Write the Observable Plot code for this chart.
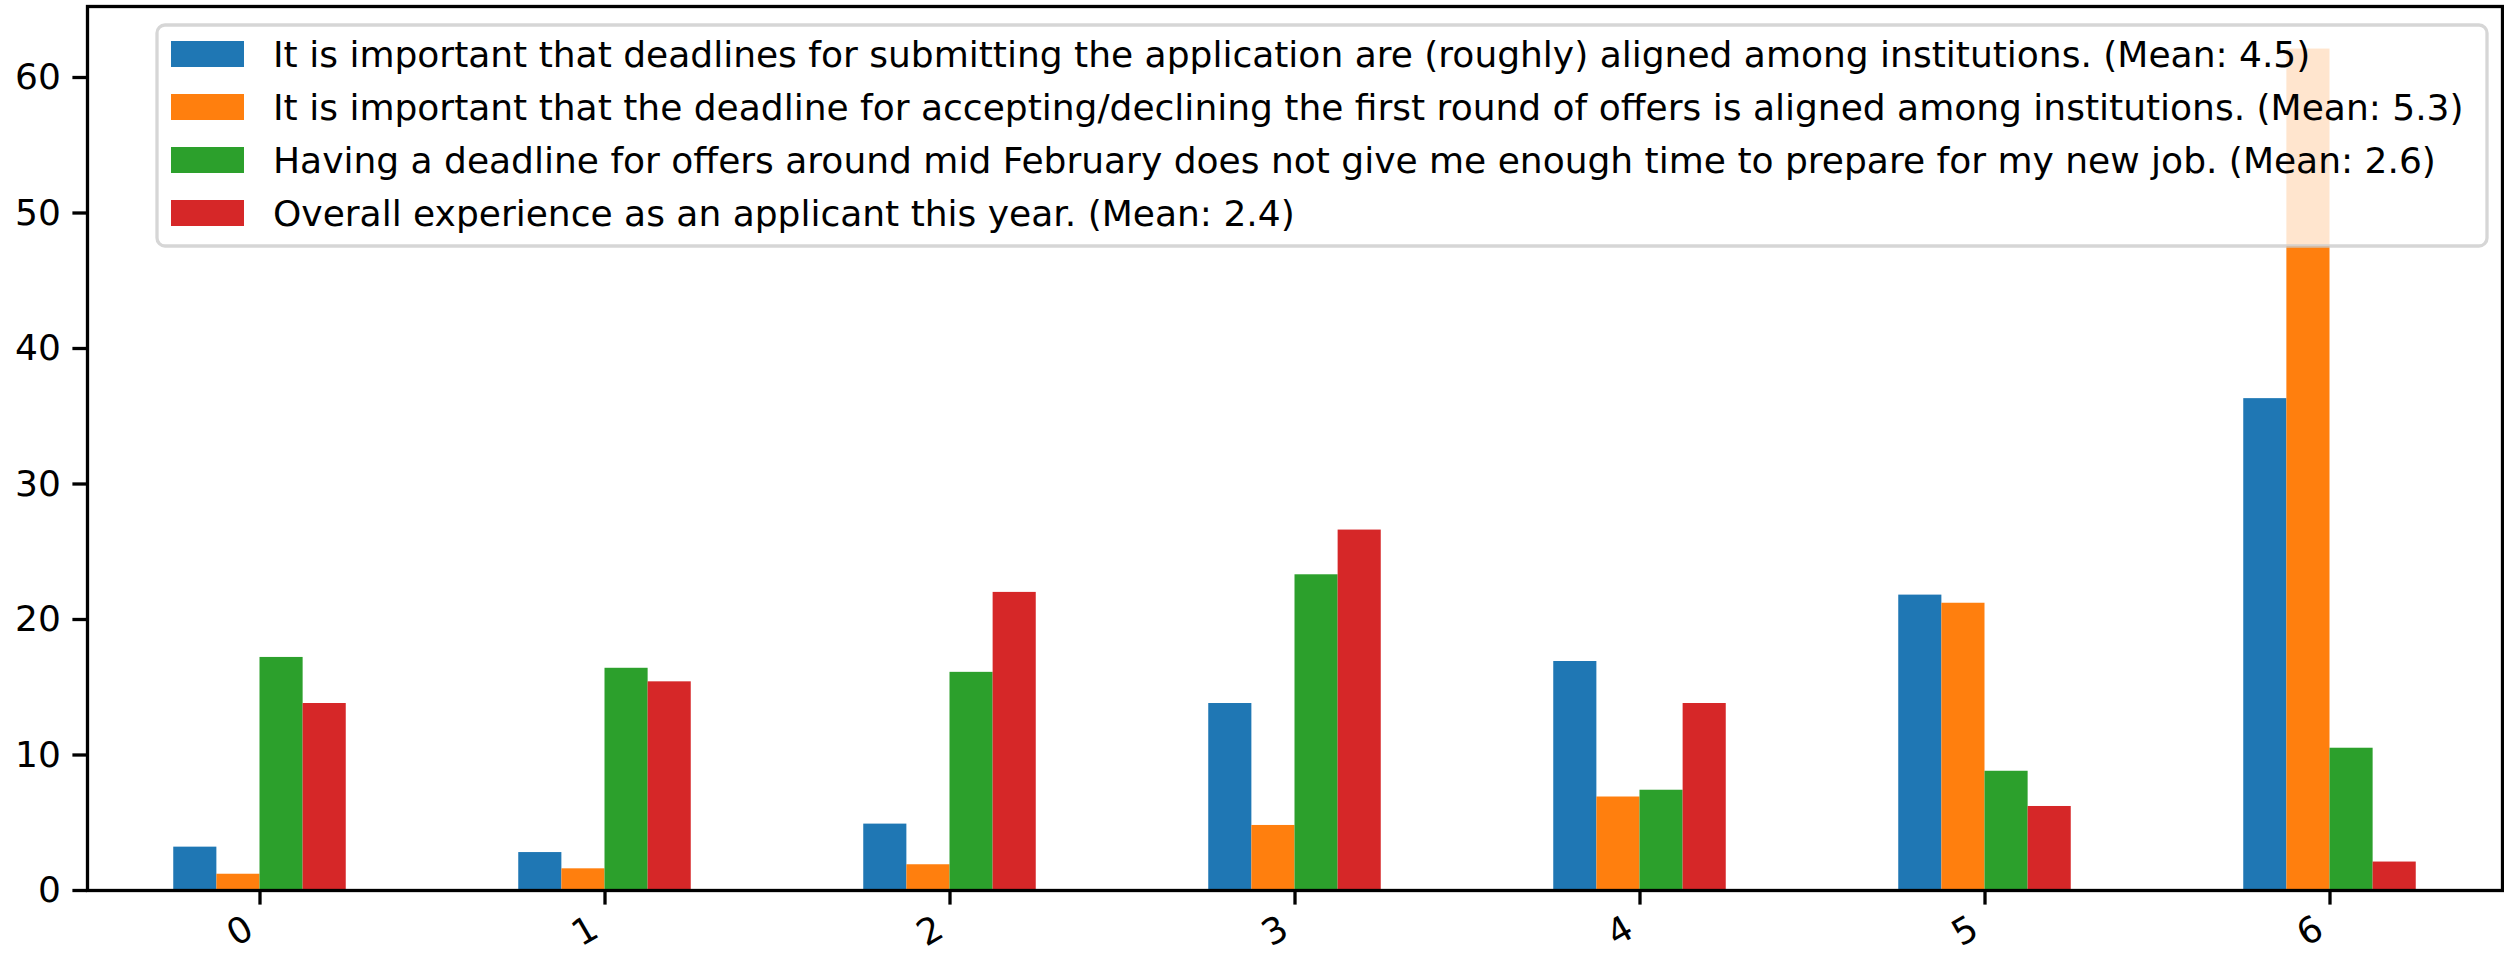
<!DOCTYPE html>
<html>
<head>
<meta charset="utf-8">
<script src="https://cdn.jsdelivr.net/npm/d3@7"></script>
<script src="https://cdn.jsdelivr.net/npm/@observablehq/plot@0.6"></script>
<style>
  html, body { margin: 0; padding: 0; background: #ffffff; }
  #chart svg { display: block; }
</style>
</head>
<body>
<div id="chart"></div>
<script>
// ---- data ----
const categories = [0, 1, 2, 3, 4, 5, 6];
const seriesLabels = [
  "It is important that deadlines for submitting the application are (roughly) aligned among institutions. (Mean: 4.5)",
  "It is important that the deadline for accepting/declining the first round of offers is aligned among institutions. (Mean: 5.3)",
  "Having a deadline for offers around mid February does not give me enough time to prepare for my new job. (Mean: 2.6)",
  "Overall experience as an applicant this year. (Mean: 2.4)"
];
const deadlinesSubmit = [3.2, 2.8, 4.9, 13.8, 16.9, 21.8, 36.3];
const deadlineAccept  = [1.2, 1.6, 1.9, 4.8, 6.9, 21.2, 62.1];
const midFebruary     = [17.2, 16.4, 16.1, 23.3, 7.4, 8.8, 10.5];
const overallExp      = [13.8, 15.4, 22.0, 26.6, 13.8, 6.2, 2.1];
const yTicks = [0, 10, 20, 30, 40, 50, 60];
const colors = ["#1f77b4", "#ff7f0e", "#2ca02c", "#d62728"];

// ---- table ----
const seriesValues = [deadlinesSubmit, deadlineAccept, midFebruary, overallExp];
const barWidth = 0.125; // pandas default total width 0.5 split over 4 series
const rows = [];
seriesValues.forEach((vals, s) => {
  vals.forEach((v, i) => {
    const x1 = categories[i] - 0.25 + s * barWidth;
    rows.push({cat: categories[i], series: seriesLabels[s], x1, x2: x1 + barWidth, value: v});
  });
});

const W = 2504, H = 953;
const svg = Plot.plot({
  width: W,
  height: H,
  marginLeft: 87,
  marginRight: 2,
  marginTop: 6,
  marginBottom: 63,
  style: {fontFamily: "DejaVu Sans", fontSize: "36px", color: "black", background: "white"},
  x: {type: "linear", domain: [-0.5, 6.5], axis: null},
  y: {domain: [0, 65.24], axis: null},
  color: {domain: seriesLabels, range: colors},
  marks: [
    Plot.rectY(rows, {x1: "x1", x2: "x2", y1: 0, y2: "value", fill: "series", inset: 0}),
    Plot.axisY({ticks: yTicks, tickSize: 14.6, tickPadding: 12, strokeWidth: 3.3, fontSize: 36,
      label: null, tickFormat: d => String(d)}),
    Plot.axisX({ticks: categories, tickSize: 14.6, strokeWidth: 3.3, label: null, tickFormat: () => ""}),
    Plot.text(categories, {x: d => d, frameAnchor: "bottom", dy: 35, dx: -10, rotate: -30,
      textAnchor: "end", lineAnchor: "middle", text: d => String(d), fontSize: 36}),
    Plot.frame({stroke: "black", strokeWidth: 3.3})
  ]
});

// ---- legend (matplotlib-style, semi-transparent box over the bars) ----
const g = d3.select(svg).append("g").attr("class", "legend").attr("text-anchor", "start");
g.append("rect")
  .attr("x", 157).attr("y", 25).attr("width", 2487 - 157).attr("height", 246 - 25)
  .attr("rx", 8).attr("ry", 8)
  .attr("fill", "white").attr("fill-opacity", 0.8)
  .attr("stroke", "#cccccc").attr("stroke-opacity", 0.8).attr("stroke-width", 3.3);
seriesLabels.forEach((label, i) => {
  const cy = 54 + i * 53;
  g.append("rect").attr("x", 171).attr("y", cy - 13).attr("width", 73).attr("height", 26)
    .attr("fill", colors[i]);
  g.append("text").attr("x", 273).attr("y", cy + 13)
    .attr("text-anchor", "start")
    .attr("font-family", "DejaVu Sans").attr("font-size", 36).attr("fill", "black")
    .text(label);
});

document.getElementById("chart").appendChild(svg);
</script>
</body>
</html>
